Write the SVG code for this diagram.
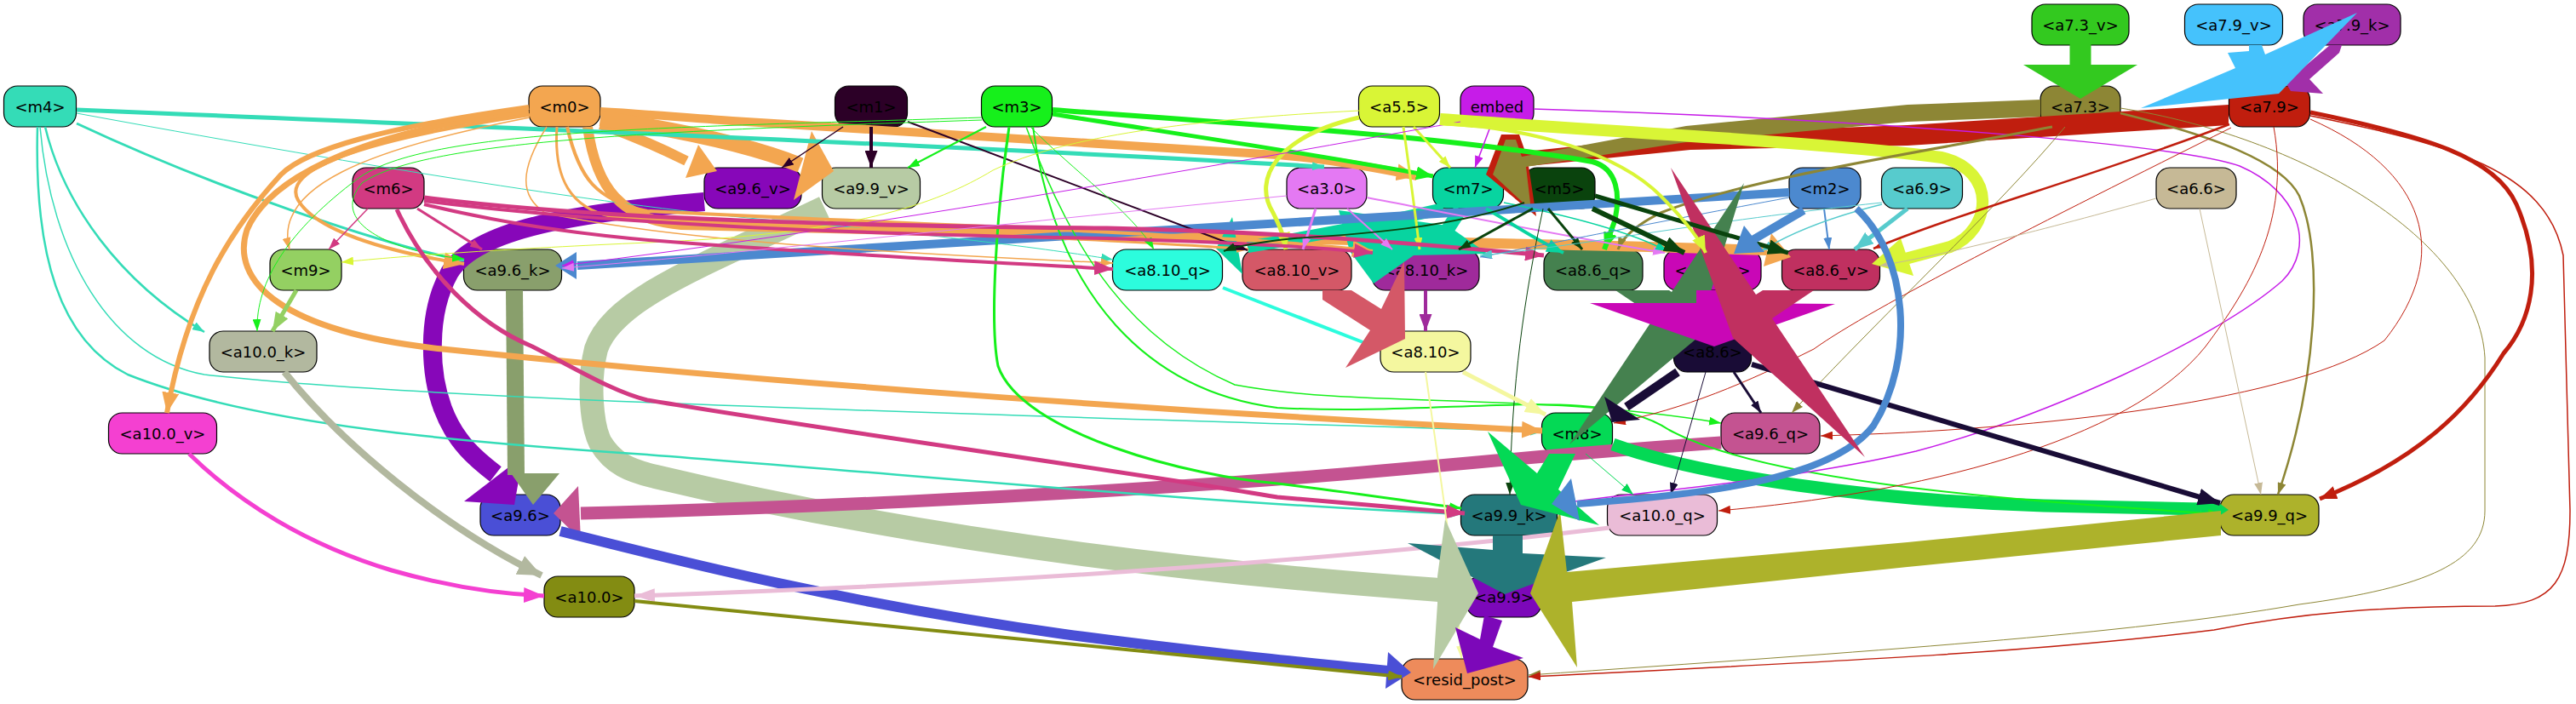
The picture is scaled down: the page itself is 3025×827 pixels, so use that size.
<svg xmlns="http://www.w3.org/2000/svg" width="3025" height="827" viewBox="0 0 3025 827">
<defs>
<style>
.n rect{stroke:#000;stroke-width:1.2}
.n text{font-family:"DejaVu Sans","Liberation Sans",sans-serif;font-size:18px;text-anchor:middle;dominant-baseline:central;fill:#000}
#connectors path{fill:none}
#connectors polygon{stroke:none}
.cm4 path{stroke:#34dcb7}.cm4 polygon{fill:#34dcb7}
.cm0 path{stroke:#f3a650}.cm0 polygon{fill:#f3a650}
.cm1 path{stroke:#2c0027}
.cm3 path{stroke:#16f01b}
.ca55 path{stroke:#d9f536}.ca55 polygon{fill:#d9f536}
.cemb path{stroke:#c61ce8}
.ca73v path{stroke:#33c91f}.ca73v polygon{fill:#33c91f}
.ca79v polygon{fill:#45c2fc}
.ca79k polygon{fill:#a12fa9}
.ca73 path{stroke:#8d8635}.ca73 polygon{fill:#8d8635}
.ca79 path{stroke:#c01e0e}.ca79 polygon{fill:#c01e0e}
.cm6 path{stroke:#d23a82}
.ca96v path{stroke:#8707b9}.ca96v polygon{fill:#8707b9}
.ca99v path{stroke:#b7cba4}.ca99v polygon{fill:#b7cba4}
.ca30 path{stroke:#e479f3}
.cm7 path{stroke:#08d4a0}.cm7 polygon{fill:#08d4a0}
.cm5 path{stroke:#0a430d}
.cm2 path{stroke:#4c89cf}.cm2 polygon{fill:#4c89cf}
.ca69 path{stroke:#57cbcd}
.ca66 path{stroke:#c6b996}
.cm9 path{stroke:#94d062}
.ca96k path{stroke:#899f6c}.ca96k polygon{fill:#899f6c}
.ca810q path{stroke:#2cfcdd}
.ca810v polygon{fill:#d45867}
.ca810k path{stroke:#9f2a9b}
.ca86q polygon{fill:#45814f}
.ca86k polygon{fill:#c907b6}
.ca86v polygon{fill:#c03060}
.ca100k path{stroke:#b2b89f}
.ca810 path{stroke:#f4f79f}
.ca86 path{stroke:#190c36}.ca86 polygon{fill:#190c36}
.ca100v path{stroke:#f440d1}
.cm8 path{stroke:#04d955}.cm8 polygon{fill:#04d955}
.ca96q path{stroke:#c45391}.ca96q polygon{fill:#c45391}
.ca96 path{stroke:#4a4fd6}.ca96 polygon{fill:#4a4fd6}
.ca99k polygon{fill:#24787b}
.ca100q path{stroke:#eabcd7}
.ca99q polygon{fill:#adb22b}
.ca100 path{stroke:#838c12}
.ca99 polygon{fill:#7c08b9}
</style>
<marker id="s_m4" viewBox="0 0 10 10" refX="10" refY="5" markerWidth="14" markerHeight="10" markerUnits="userSpaceOnUse" orient="auto" preserveAspectRatio="none"><path d="M0,0L10,5L0,10z" fill="#34dcb7"/></marker>
<marker id="s_m0" viewBox="0 0 10 10" refX="10" refY="5" markerWidth="14" markerHeight="10" markerUnits="userSpaceOnUse" orient="auto" preserveAspectRatio="none"><path d="M0,0L10,5L0,10z" fill="#f3a650"/></marker>
<marker id="L_m0" viewBox="0 0 10 10" refX="10" refY="5" markerWidth="24" markerHeight="20" markerUnits="userSpaceOnUse" orient="auto" preserveAspectRatio="none"><path d="M0,0L10,5L0,10z" fill="#f3a650"/></marker>
<marker id="s_m1" viewBox="0 0 10 10" refX="10" refY="5" markerWidth="14" markerHeight="10" markerUnits="userSpaceOnUse" orient="auto" preserveAspectRatio="none"><path d="M0,0L10,5L0,10z" fill="#2c0027"/></marker>
<marker id="L_m1" viewBox="0 0 10 10" refX="10" refY="5" markerWidth="20" markerHeight="15" markerUnits="userSpaceOnUse" orient="auto" preserveAspectRatio="none"><path d="M0,0L10,5L0,10z" fill="#2c0027"/></marker>
<marker id="s_m3" viewBox="0 0 10 10" refX="10" refY="5" markerWidth="14" markerHeight="10" markerUnits="userSpaceOnUse" orient="auto" preserveAspectRatio="none"><path d="M0,0L10,5L0,10z" fill="#16f01b"/></marker>
<marker id="L_m3" viewBox="0 0 10 10" refX="10" refY="5" markerWidth="20" markerHeight="16" markerUnits="userSpaceOnUse" orient="auto" preserveAspectRatio="none"><path d="M0,0L10,5L0,10z" fill="#16f01b"/></marker>
<marker id="s_a55" viewBox="0 0 10 10" refX="10" refY="5" markerWidth="14" markerHeight="10" markerUnits="userSpaceOnUse" orient="auto" preserveAspectRatio="none"><path d="M0,0L10,5L0,10z" fill="#d9f536"/></marker>
<marker id="L_a55" viewBox="0 0 10 10" refX="10" refY="5" markerWidth="20" markerHeight="16" markerUnits="userSpaceOnUse" orient="auto" preserveAspectRatio="none"><path d="M0,0L10,5L0,10z" fill="#d9f536"/></marker>
<marker id="s_emb" viewBox="0 0 10 10" refX="10" refY="5" markerWidth="14" markerHeight="10" markerUnits="userSpaceOnUse" orient="auto" preserveAspectRatio="none"><path d="M0,0L10,5L0,10z" fill="#c61ce8"/></marker>
<marker id="s_a73" viewBox="0 0 10 10" refX="10" refY="5" markerWidth="14" markerHeight="10" markerUnits="userSpaceOnUse" orient="auto" preserveAspectRatio="none"><path d="M0,0L10,5L0,10z" fill="#8d8635"/></marker>
<marker id="s_a79" viewBox="0 0 10 10" refX="10" refY="5" markerWidth="14" markerHeight="10" markerUnits="userSpaceOnUse" orient="auto" preserveAspectRatio="none"><path d="M0,0L10,5L0,10z" fill="#c01e0e"/></marker>
<marker id="L_a79" viewBox="0 0 10 10" refX="10" refY="5" markerWidth="20" markerHeight="16" markerUnits="userSpaceOnUse" orient="auto" preserveAspectRatio="none"><path d="M0,0L10,5L0,10z" fill="#c01e0e"/></marker>
<marker id="s_m6" viewBox="0 0 10 10" refX="10" refY="5" markerWidth="14" markerHeight="10" markerUnits="userSpaceOnUse" orient="auto" preserveAspectRatio="none"><path d="M0,0L10,5L0,10z" fill="#d23a82"/></marker>
<marker id="L_m6" viewBox="0 0 10 10" refX="10" refY="5" markerWidth="22" markerHeight="17" markerUnits="userSpaceOnUse" orient="auto" preserveAspectRatio="none"><path d="M0,0L10,5L0,10z" fill="#d23a82"/></marker>
<marker id="s_a30" viewBox="0 0 10 10" refX="10" refY="5" markerWidth="14" markerHeight="10" markerUnits="userSpaceOnUse" orient="auto" preserveAspectRatio="none"><path d="M0,0L10,5L0,10z" fill="#e479f3"/></marker>
<marker id="s_m7" viewBox="0 0 10 10" refX="10" refY="5" markerWidth="14" markerHeight="10" markerUnits="userSpaceOnUse" orient="auto" preserveAspectRatio="none"><path d="M0,0L10,5L0,10z" fill="#08d4a0"/></marker>
<marker id="L_m7" viewBox="0 0 10 10" refX="10" refY="5" markerWidth="20" markerHeight="16" markerUnits="userSpaceOnUse" orient="auto" preserveAspectRatio="none"><path d="M0,0L10,5L0,10z" fill="#08d4a0"/></marker>
<marker id="s_m5" viewBox="0 0 10 10" refX="10" refY="5" markerWidth="14" markerHeight="10" markerUnits="userSpaceOnUse" orient="auto" preserveAspectRatio="none"><path d="M0,0L10,5L0,10z" fill="#0a430d"/></marker>
<marker id="L_m5" viewBox="0 0 10 10" refX="10" refY="5" markerWidth="24" markerHeight="18" markerUnits="userSpaceOnUse" orient="auto" preserveAspectRatio="none"><path d="M0,0L10,5L0,10z" fill="#0a430d"/></marker>
<marker id="s_m2" viewBox="0 0 10 10" refX="10" refY="5" markerWidth="14" markerHeight="10" markerUnits="userSpaceOnUse" orient="auto" preserveAspectRatio="none"><path d="M0,0L10,5L0,10z" fill="#4c89cf"/></marker>
<marker id="s_a69" viewBox="0 0 10 10" refX="10" refY="5" markerWidth="14" markerHeight="10" markerUnits="userSpaceOnUse" orient="auto" preserveAspectRatio="none"><path d="M0,0L10,5L0,10z" fill="#57cbcd"/></marker>
<marker id="L_a69" viewBox="0 0 10 10" refX="10" refY="5" markerWidth="22" markerHeight="17" markerUnits="userSpaceOnUse" orient="auto" preserveAspectRatio="none"><path d="M0,0L10,5L0,10z" fill="#57cbcd"/></marker>
<marker id="s_a66" viewBox="0 0 10 10" refX="10" refY="5" markerWidth="14" markerHeight="10" markerUnits="userSpaceOnUse" orient="auto" preserveAspectRatio="none"><path d="M0,0L10,5L0,10z" fill="#c6b996"/></marker>
<marker id="L_m9" viewBox="0 0 10 10" refX="10" refY="5" markerWidth="22" markerHeight="17" markerUnits="userSpaceOnUse" orient="auto" preserveAspectRatio="none"><path d="M0,0L10,5L0,10z" fill="#94d062"/></marker>
<marker id="s_a810q" viewBox="0 0 10 10" refX="10" refY="5" markerWidth="14" markerHeight="10" markerUnits="userSpaceOnUse" orient="auto" preserveAspectRatio="none"><path d="M0,0L10,5L0,10z" fill="#2cfcdd"/></marker>
<marker id="L_a810k" viewBox="0 0 10 10" refX="10" refY="5" markerWidth="20" markerHeight="15" markerUnits="userSpaceOnUse" orient="auto" preserveAspectRatio="none"><path d="M0,0L10,5L0,10z" fill="#9f2a9b"/></marker>
<marker id="L_a100k" viewBox="0 0 10 10" refX="10" refY="5" markerWidth="28" markerHeight="24" markerUnits="userSpaceOnUse" orient="auto" preserveAspectRatio="none"><path d="M0,0L10,5L0,10z" fill="#b2b89f"/></marker>
<marker id="s_a810" viewBox="0 0 10 10" refX="10" refY="5" markerWidth="14" markerHeight="10" markerUnits="userSpaceOnUse" orient="auto" preserveAspectRatio="none"><path d="M0,0L10,5L0,10z" fill="#f4f79f"/></marker>
<marker id="L_a810" viewBox="0 0 10 10" refX="10" refY="5" markerWidth="24" markerHeight="18" markerUnits="userSpaceOnUse" orient="auto" preserveAspectRatio="none"><path d="M0,0L10,5L0,10z" fill="#f4f79f"/></marker>
<marker id="s_a86" viewBox="0 0 10 10" refX="10" refY="5" markerWidth="14" markerHeight="10" markerUnits="userSpaceOnUse" orient="auto" preserveAspectRatio="none"><path d="M0,0L10,5L0,10z" fill="#190c36"/></marker>
<marker id="L_a86" viewBox="0 0 10 10" refX="10" refY="5" markerWidth="26" markerHeight="20" markerUnits="userSpaceOnUse" orient="auto" preserveAspectRatio="none"><path d="M0,0L10,5L0,10z" fill="#190c36"/></marker>
<marker id="L_a100v" viewBox="0 0 10 10" refX="10" refY="5" markerWidth="24" markerHeight="18" markerUnits="userSpaceOnUse" orient="auto" preserveAspectRatio="none"><path d="M0,0L10,5L0,10z" fill="#f440d1"/></marker>
<marker id="s_m8" viewBox="0 0 10 10" refX="10" refY="5" markerWidth="14" markerHeight="10" markerUnits="userSpaceOnUse" orient="auto" preserveAspectRatio="none"><path d="M0,0L10,5L0,10z" fill="#04d955"/></marker>
<marker id="L_a100q" viewBox="0 0 10 10" refX="10" refY="5" markerWidth="24" markerHeight="16" markerUnits="userSpaceOnUse" orient="auto" preserveAspectRatio="none"><path d="M0,0L10,5L0,10z" fill="#eabcd7"/></marker>
<marker id="s_a100" viewBox="0 0 10 10" refX="10" refY="5" markerWidth="16" markerHeight="12" markerUnits="userSpaceOnUse" orient="auto" preserveAspectRatio="none"><path d="M0,0L10,5L0,10z" fill="#838c12"/></marker>
</defs>
<rect width="3025" height="827" fill="#ffffff"/>
<g id="nodes">
<g id="node-a7.3_v" class="n"><rect x="2386" y="5" width="114" height="48" rx="16" fill="#33c91f"/><text x="2443" y="29">&lt;a7.3_v&gt;</text></g>
<g id="node-a7.9_v" class="n"><rect x="2565.5" y="5" width="115" height="48" rx="16" fill="#45c2fc"/><text x="2623" y="29">&lt;a7.9_v&gt;</text></g>
<g id="node-a7.9_k" class="n"><rect x="2705" y="5" width="114" height="48" rx="16" fill="#a12fa9"/><text x="2762" y="29">&lt;a7.9_k&gt;</text></g>
<g id="node-m4" class="n"><rect x="4.5" y="101" width="85" height="48" rx="16" fill="#34dcb7"/><text x="47" y="125">&lt;m4&gt;</text></g>
<g id="node-m0" class="n"><rect x="621" y="101" width="84" height="48" rx="16" fill="#f3a650"/><text x="663" y="125">&lt;m0&gt;</text></g>
<g id="node-m1" class="n"><rect x="980.5" y="101" width="85" height="48" rx="16" fill="#2c0027"/><text x="1023" y="125">&lt;m1&gt;</text></g>
<g id="node-m3" class="n"><rect x="1152.5" y="101" width="83" height="48" rx="16" fill="#16f01b"/><text x="1194" y="125">&lt;m3&gt;</text></g>
<g id="node-a5.5" class="n"><rect x="1595.5" y="101" width="95" height="48" rx="16" fill="#d9f536"/><text x="1643" y="125">&lt;a5.5&gt;</text></g>
<g id="node-embed" class="n"><rect x="1715" y="101" width="86" height="48" rx="16" fill="#c61ce8"/><text x="1758" y="125">embed</text></g>
<g id="node-a7.3" class="n"><rect x="2396" y="101" width="94" height="48" rx="16" fill="#8d8635"/><text x="2443" y="125">&lt;a7.3&gt;</text></g>
<g id="node-a7.9" class="n"><rect x="2617.5" y="101" width="95" height="48" rx="16" fill="#c01e0e"/><text x="2665" y="125">&lt;a7.9&gt;</text></g>
<g id="node-m6" class="n"><rect x="414" y="197" width="84" height="48" rx="16" fill="#d23a82"/><text x="456" y="221">&lt;m6&gt;</text></g>
<g id="node-a9.6_v" class="n"><rect x="827" y="197" width="114" height="48" rx="16" fill="#8707b9"/><text x="884" y="221">&lt;a9.6_v&gt;</text></g>
<g id="node-a9.9_v" class="n"><rect x="965.5" y="197" width="115" height="48" rx="16" fill="#b7cba4"/><text x="1023" y="221">&lt;a9.9_v&gt;</text></g>
<g id="node-a3.0" class="n"><rect x="1511" y="197" width="94" height="48" rx="16" fill="#e479f3"/><text x="1558" y="221">&lt;a3.0&gt;</text></g>
<g id="node-m7" class="n"><rect x="1682.5" y="197" width="83" height="48" rx="16" fill="#08d4a0"/><text x="1724" y="221">&lt;m7&gt;</text></g>
<g id="node-m5" class="n"><rect x="1789" y="197" width="84" height="48" rx="16" fill="#0a430d"/><text x="1831" y="221">&lt;m5&gt;</text></g>
<g id="node-m2" class="n"><rect x="2101" y="197" width="84" height="48" rx="16" fill="#4c89cf"/><text x="2143" y="221">&lt;m2&gt;</text></g>
<g id="node-a6.9" class="n"><rect x="2209.5" y="197" width="95" height="48" rx="16" fill="#57cbcd"/><text x="2257" y="221">&lt;a6.9&gt;</text></g>
<g id="node-a6.6" class="n"><rect x="2532" y="197" width="94" height="48" rx="16" fill="#c6b996"/><text x="2579" y="221">&lt;a6.6&gt;</text></g>
<g id="node-m9" class="n"><rect x="317" y="293" width="84" height="48" rx="16" fill="#94d062"/><text x="359" y="317">&lt;m9&gt;</text></g>
<g id="node-a9.6_k" class="n"><rect x="544.5" y="293" width="115" height="48" rx="16" fill="#899f6c"/><text x="602" y="317">&lt;a9.6_k&gt;</text></g>
<g id="node-a8.10_q" class="n"><rect x="1306.5" y="293" width="129" height="48" rx="16" fill="#2cfcdd"/><text x="1371" y="317">&lt;a8.10_q&gt;</text></g>
<g id="node-a8.10_v" class="n"><rect x="1459" y="293" width="128" height="48" rx="16" fill="#d45867"/><text x="1523" y="317">&lt;a8.10_v&gt;</text></g>
<g id="node-a8.10_k" class="n"><rect x="1611" y="293" width="126" height="48" rx="16" fill="#9f2a9b"/><text x="1674" y="317">&lt;a8.10_k&gt;</text></g>
<g id="node-a8.6_q" class="n"><rect x="1813" y="293" width="116" height="48" rx="16" fill="#45814f"/><text x="1871" y="317">&lt;a8.6_q&gt;</text></g>
<g id="node-a8.6_k" class="n"><rect x="1954" y="293" width="114" height="48" rx="16" fill="#c907b6"/><text x="2011" y="317">&lt;a8.6_k&gt;</text></g>
<g id="node-a8.6_v" class="n"><rect x="2092.5" y="293" width="115" height="48" rx="16" fill="#c03060"/><text x="2150" y="317">&lt;a8.6_v&gt;</text></g>
<g id="node-a10.0_k" class="n"><rect x="246" y="389" width="126" height="48" rx="16" fill="#b2b89f"/><text x="309" y="413">&lt;a10.0_k&gt;</text></g>
<g id="node-a8.10" class="n"><rect x="1621" y="389" width="106" height="48" rx="16" fill="#f4f79f"/><text x="1674" y="413">&lt;a8.10&gt;</text></g>
<g id="node-a8.6" class="n"><rect x="1965.5" y="389" width="91" height="48" rx="16" fill="#190c36"/><text x="2011" y="413">&lt;a8.6&gt;</text></g>
<g id="node-a10.0_v" class="n"><rect x="127.5" y="485" width="127" height="48" rx="16" fill="#f440d1"/><text x="191" y="509">&lt;a10.0_v&gt;</text></g>
<g id="node-m8" class="n"><rect x="1810.5" y="485" width="83" height="48" rx="16" fill="#04d955"/><text x="1852" y="509">&lt;m8&gt;</text></g>
<g id="node-a9.6_q" class="n"><rect x="2021" y="485" width="116" height="48" rx="16" fill="#c45391"/><text x="2079" y="509">&lt;a9.6_q&gt;</text></g>
<g id="node-a9.6" class="n"><rect x="564" y="581" width="94" height="48" rx="16" fill="#4a4fd6"/><text x="611" y="605">&lt;a9.6&gt;</text></g>
<g id="node-a9.9_k" class="n"><rect x="1715.5" y="581" width="113" height="48" rx="16" fill="#24787b"/><text x="1772" y="605">&lt;a9.9_k&gt;</text></g>
<g id="node-a10.0_q" class="n"><rect x="1887.5" y="581" width="129" height="48" rx="16" fill="#eabcd7"/><text x="1952" y="605">&lt;a10.0_q&gt;</text></g>
<g id="node-a9.9_q" class="n"><rect x="2607" y="581" width="116" height="48" rx="16" fill="#adb22b"/><text x="2665" y="605">&lt;a9.9_q&gt;</text></g>
<g id="node-a10.0" class="n"><rect x="639" y="677" width="106" height="48" rx="16" fill="#838c12"/><text x="692" y="701">&lt;a10.0&gt;</text></g>
<g id="node-a9.9" class="n"><rect x="1722" y="677" width="88" height="48" rx="16" fill="#7c08b9"/><text x="1766" y="701">&lt;a9.9&gt;</text></g>
<g id="node-resid_post" class="n"><rect x="1646" y="774" width="148" height="48" rx="16" fill="#ee8b5b"/><text x="1720" y="798">&lt;resid_post&gt;</text></g>
</g>
<g id="connectors">
<g id="e-a9.9_v-a9.9" class="ca99v"><path d="M968,244 C830,310 720,350 700,410 C690,450 695,500 705,520 C720,545 740,553 770,560 C1000,615 1300,665 1690,693" stroke-width="28"/></g>
<g id="e-a9.6_v-a9.6" class="ca96v"><path d="M827,237 C680,250 560,268 528,320 C500,370 505,440 520,480 C535,520 560,540 582,557" stroke-width="22"/><polygon points="614,536 604,593 545,589"/></g>
<g id="e-a9.6_k-a9.6" class="ca96k"><path d="M604,341 L606,558" stroke-width="20"/><polygon points="600,556 657,556 626,593"/></g>
<g id="e-a9.6_q-a9.6" class="ca96q"><path d="M2021,520 C1800,535 1650,552 1500,563 C1200,585 900,598 682,603" stroke-width="15"/><polygon points="679,571 682,634 650,603"/></g>
<g id="e-a9.6-resid_post" class="ca96"><path d="M658,624 C800,660 1000,710 1250,745 C1400,765 1500,775 1630,788" stroke-width="12"/><polygon points="1630,766 1657,790 1627,809"/></g>
<g id="e-m8-a9.9_q" class="cm8"><path d="M1894,522 C2000,560 2200,588 2400,594 L2585,598" stroke-width="15"/><polygon points="2585,576 2617,599 2585,619"/></g>
<g id="e-m0-a8.6_v" class="cm0"><path d="M690,149 C700,222 730,258 800,264 C1100,272 1600,280 2075,294" stroke-width="12"/><polygon points="2080,274 2103,302 2071,313"/></g>
<g id="e-m0-m7" class="cm0"><path d="M705,131 C760,134 800,138 860,142 L1500,182 C1560,187 1620,198 1664,207" stroke-width="10" marker-end="url(#L_m0)"/></g>
<g id="e-m0-a9.6_v" class="cm0"><path d="M705,146 C745,160 780,176 806,189" stroke-width="12"/><polygon points="820,170 842,201 805,209"/></g>
<g id="e-m0-a9.9_v" class="cm0"><path d="M705,139 C800,153 880,170 940,194" stroke-width="18"/><polygon points="953,154 979,201 932,235"/></g>
<g id="e-a7.9-m7" class="ca79"><polygon points="1745,205 1763,158 1784,158 1791,178 2000,156 2240,147 2617,123 2617,147 2240,171 1985,176 1795,195 1804,254"/></g>
<g id="e-a7.3-m7" class="ca73"><polygon points="1753,205 1768,164 1780,164 1787,184 1980,148 2240,123 2396,117 2396,137 2240,143 1980,167 1792,196 1798,247"/></g>
<g id="e-a5.5-a8.6_v" class="ca55"><path d="M1691,140 C1900,155 2150,168 2280,185 C2345,200 2340,270 2290,290 L2230,306" stroke-width="14"/><polygon points="2232,280 2198,310 2247,324"/></g>
<g id="e-m7-a8.10_q" class="cm7"><path d="M1695,245 C1620,262 1540,278 1465,290" stroke-width="14"/><polygon points="1447,255 1459,322 1428,292"/></g>
<g id="e-m7-a8.10_k" class="cm7"><path d="M1715,246 L1690,285" stroke-width="16"/><polygon points="1572,247 1700,265 1747,298 1660,300 1613,333 1585,295"/></g>
<g id="e-m2-a9.6_k" class="cm2"><path d="M2101,226 L678,312" stroke-width="10"/><polygon points="677,296 652,312 677,328"/></g>
<g id="e-m4-a3.0" class="cm4"><path d="M90,129 C600,150 1200,175 1555,196" stroke-width="5" marker-end="url(#s_m4)"/></g>
<g id="e-m4-a9.6_k" class="cm4"><path d="M90,145 C250,220 450,288 545,306" stroke-width="3" marker-end="url(#s_m4)"/></g>
<g id="e-m4-a10.0_k" class="cm4"><path d="M53,149 C75,240 140,330 240,390" stroke-width="2.5" marker-end="url(#s_m4)"/></g>
<g id="e-m4-m8" class="cm4"><path d="M47,149 C60,300 130,420 240,440 C500,470 1100,485 1811,507" stroke-width="1.5" marker-end="url(#s_m4)"/></g>
<g id="e-m4-a9.9_k" class="cm4"><path d="M44,149 C40,300 70,400 150,440 C300,500 550,520 760,534 C1100,560 1400,590 1716,604" stroke-width="2.5" marker-end="url(#s_m4)"/></g>
<g id="e-m4-a8.10_q" class="cm4"><path d="M90,133 C400,190 700,240 900,258 C1100,275 1250,295 1307,305" stroke-width="1" marker-end="url(#s_m4)"/></g>
<g id="e-m0-m8" class="cm0"><path d="M621,132 C450,150 320,200 290,270 C270,330 330,390 520,410 C900,450 1400,485 1811,506" stroke-width="7" marker-end="url(#L_m0)"/></g>
<g id="e-m0-a10.0_v" class="cm0"><path d="M621,126 C450,150 360,175 330,205 C270,270 220,350 196,485" stroke-width="6" marker-end="url(#L_m0)"/></g>
<g id="e-m0-a9.6_k" class="cm0"><path d="M622,135 C420,165 330,200 350,235 C370,270 450,295 545,310" stroke-width="4" marker-end="url(#L_m0)"/></g>
<g id="e-m0-m9" class="cm0"><path d="M622,138 C430,175 320,220 340,293" stroke-width="1.5" marker-end="url(#s_m0)"/></g>
<g id="e-m0-a8.10_q" class="cm0"><path d="M642,149 C610,200 610,230 640,250 C800,285 1100,300 1307,309" stroke-width="1.5" marker-end="url(#s_m0)"/></g>
<g id="e-m0-a8.10_v" class="cm0"><path d="M654,149 C650,210 670,245 720,255 C1000,270 1300,280 1466,293" stroke-width="3" marker-end="url(#s_m0)"/></g>
<g id="e-m0-a8.10_k" class="cm0"><path d="M666,149 C680,210 700,235 760,248 C1100,265 1450,275 1612,295" stroke-width="4" marker-end="url(#L_m0)"/></g>
<g id="e-m1-a9.9_v" class="cm1"><path d="M1023,149 L1023,197" stroke-width="4" marker-end="url(#L_m1)"/></g>
<g id="e-m1-a9.6_v" class="cm1"><path d="M990,149 L918,197" stroke-width="1.5" marker-end="url(#s_m1)"/></g>
<g id="e-m1-a8.10_v" class="cm1"><path d="M1066,143 L1465,294" stroke-width="2" marker-end="url(#s_m1)"/></g>
<g id="e-m3-a9.9_v" class="cm3"><path d="M1158,149 L1066,197" stroke-width="2" marker-end="url(#s_m3)"/></g>
<g id="e-m3-a8.6_q" class="cm3"><path d="M1236,129 C1450,145 1700,160 1870,190 C1900,198 1903,230 1896,260 L1884,293" stroke-width="6" marker-end="url(#L_m3)"/></g>
<g id="e-m3-m7" class="cm3"><path d="M1236,134 C1400,160 1550,182 1683,207" stroke-width="5" marker-end="url(#L_m3)"/></g>
<g id="e-m3-a9.9_k" class="cm3"><path d="M1185,149 C1170,250 1162,380 1172,430 C1200,510 1400,560 1500,568 C1600,580 1660,590 1716,597" stroke-width="3" marker-end="url(#s_m3)"/></g>
<g id="e-m3-a9.6_q" class="cm3"><path d="M1205,149 C1260,300 1330,400 1450,452 C1600,480 1800,460 2021,497" stroke-width="1.5" marker-end="url(#s_m3)"/></g>
<g id="e-m3-a9.9_q" class="cm3"><path d="M1213,149 C1240,350 1350,460 1500,479 C1700,490 1880,450 1960,505 C2080,570 2400,590 2607,604" stroke-width="2" marker-end="url(#s_m3)"/></g>
<g id="e-m3-a10.0_k" class="cm3"><path d="M1153,138 C800,150 500,150 420,210 C340,270 300,330 302,389" stroke-width="1" marker-end="url(#s_m3)"/></g>
<g id="e-m3-a9.6_k" class="cm3"><path d="M1153,141 C800,153 500,163 425,215 C385,262 460,296 545,304" stroke-width="1" marker-end="url(#s_m3)"/></g>
<g id="e-m3-a8.10_q" class="cm3"><path d="M1210,149 C1260,200 1330,250 1355,293" stroke-width="1" marker-end="url(#s_m3)"/></g>
<g id="e-a5.5-m7" class="ca55"><path d="M1660,149 L1703,197" stroke-width="3" marker-end="url(#s_a55)"/></g>
<g id="e-a5.5-a8.10_k" class="ca55"><path d="M1648,149 C1655,200 1662,250 1667,293" stroke-width="3" marker-end="url(#s_a55)"/></g>
<g id="e-a5.5-a8.10_v" class="ca55"><path d="M1596,138 C1500,160 1470,210 1495,250 C1505,270 1508,280 1510,293" stroke-width="5" marker-end="url(#L_a55)"/></g>
<g id="e-a5.5-m9" class="ca55"><path d="M1596,130 C1400,140 1250,160 1166,200 C1100,240 1000,275 760,285 C600,292 480,300 401,308" stroke-width="1" marker-end="url(#s_a55)"/></g>
<g id="e-embed-m7" class="cemb"><path d="M1750,149 L1732,197" stroke-width="1.5" marker-end="url(#s_emb)"/></g>
<g id="e-embed-a9.6_k" class="cemb"><path d="M1715,143 C1400,200 1000,270 660,312" stroke-width="1" marker-end="url(#s_emb)"/></g>
<g id="e-embed-a9.9_k" class="cemb"><path d="M1801,128 C2200,140 2560,170 2630,195 C2700,225 2720,290 2680,330 C2600,400 2400,490 2250,530 C2100,565 1950,575 1832,591" stroke-width="1.5" marker-end="url(#s_emb)"/></g>
<g id="e-a7.3-a9.9_q" class="ca73"><path d="M2490,133 C2600,160 2680,190 2700,230 C2730,300 2720,450 2675,581" stroke-width="2.5" marker-end="url(#s_a73)"/></g>
<g id="e-a7.3-resid_post" class="ca73"><path d="M2490,127 C2700,160 2910,280 2918,420 L2918,600 C2918,660 2850,690 2700,710 C2500,745 2200,765 1795,793" stroke-width="1" marker-end="url(#s_a73)"/></g>
<g id="e-a7.3-a8.6_q" class="ca73"><path d="M2410,149 C2250,180 2050,210 1950,250 C1920,265 1905,280 1900,293" stroke-width="3" marker-end="url(#s_a73)"/></g>
<g id="e-a7.3-a9.6_q" class="ca73"><path d="M2425,149 C2350,240 2200,380 2104,485" stroke-width="1" marker-end="url(#s_a73)"/></g>
<g id="e-a7.9-a9.9_q" class="ca79"><path d="M2713,132 C2850,160 2930,185 2955,240 C2990,320 2970,380 2940,415 C2900,480 2840,540 2724,586" stroke-width="5" marker-end="url(#L_a79)"/></g>
<g id="e-a7.9-resid_post" class="ca79"><path d="M2713,136 C2880,170 2990,200 3010,300 L3018,600 C3018,680 3000,710 2930,712 C2800,712 2700,720 2600,740 C2400,765 2200,775 1795,795" stroke-width="1.5" marker-end="url(#s_a79)"/></g>
<g id="e-a7.9-a8.6_v" class="ca79"><path d="M2618,146 C2450,210 2300,250 2200,292" stroke-width="2.5" marker-end="url(#s_a79)"/></g>
<g id="e-a7.9-m8" class="ca79"><path d="M2620,150 C2400,260 2200,360 2130,410 C2050,450 1980,480 1895,497" stroke-width="1" marker-end="url(#s_a79)"/></g>
<g id="e-a7.9-a10.0_q" class="ca79"><path d="M2670,149 C2690,260 2640,340 2590,407 C2500,520 2250,580 2018,600" stroke-width="1" marker-end="url(#s_a79)"/></g>
<g id="e-a7.9-a9.6_q" class="ca79"><path d="M2713,140 C2850,200 2880,300 2800,400 C2700,470 2400,505 2138,512" stroke-width="1" marker-end="url(#s_a79)"/></g>
<g id="e-m6-m9" class="cm6"><path d="M432,245 L386,293" stroke-width="1.5" marker-end="url(#s_m6)"/></g>
<g id="e-m6-a9.6_k" class="cm6"><path d="M490,245 L566,293" stroke-width="3" marker-end="url(#s_m6)"/></g>
<g id="e-m6-a9.9_k" class="cm6"><path d="M466,246 C500,320 560,380 625,407 C680,435 720,460 760,470 C1000,510 1300,550 1500,584 L1720,603" stroke-width="5" marker-end="url(#L_m6)"/></g>
<g id="e-m6-a8.10_q" class="cm6"><path d="M498,240 C600,265 700,278 800,285 C1000,300 1200,310 1307,316" stroke-width="4" marker-end="url(#L_m6)"/></g>
<g id="e-m6-a8.6_q" class="cm6"><path d="M498,232 C700,258 1000,265 1300,268 C1500,272 1650,285 1813,300" stroke-width="5" marker-end="url(#L_m6)"/></g>
<g id="e-m6-a8.10_k" class="cm6"><path d="M498,236 C700,262 1000,275 1300,280 C1450,285 1550,290 1612,297" stroke-width="4" marker-end="url(#L_m6)"/></g>
<g id="e-a3.0-a8.10_v" class="ca30"><path d="M1545,245 L1530,293" stroke-width="3" marker-end="url(#s_a30)"/></g>
<g id="e-a3.0-a8.10_k" class="ca30"><path d="M1582,245 L1635,293" stroke-width="2" marker-end="url(#s_a30)"/></g>
<g id="e-a3.0-a8.6_k" class="ca30"><path d="M1605,232 C1750,260 1850,280 1955,297" stroke-width="2" marker-end="url(#s_a30)"/></g>
<g id="e-a3.0-a9.6_k" class="ca30"><path d="M1511,230 C1200,260 900,295 660,315" stroke-width="1" marker-end="url(#s_a30)"/></g>
<g id="e-m7-a8.6_q" class="cm7"><path d="M1745,245 C1780,265 1800,280 1836,297" stroke-width="4" marker-end="url(#L_m7)"/></g>
<g id="e-m7-a8.6_k" class="cm7"><path d="M1766,238 C1850,255 1920,275 1958,295" stroke-width="1.5" marker-end="url(#s_m7)"/></g>
<g id="e-m5-a8.10_k" class="cm5"><path d="M1800,245 L1713,293" stroke-width="3" marker-end="url(#s_m5)"/></g>
<g id="e-m5-a8.10_q" class="cm5"><path d="M1790,238 C1700,268 1600,275 1520,280 C1480,284 1455,288 1437,295" stroke-width="2" marker-end="url(#s_m5)"/></g>
<g id="e-m5-a8.6_q" class="cm5"><path d="M1818,245 L1858,293" stroke-width="3" marker-end="url(#s_m5)"/></g>
<g id="e-m5-a9.9_k" class="cm5"><path d="M1812,245 C1790,350 1775,450 1773,581" stroke-width="1" marker-end="url(#s_m5)"/></g>
<g id="e-m2-a8.6_v" class="cm2"><path d="M2142,245 L2148,293" stroke-width="2" marker-end="url(#s_m2)"/></g>
<g id="e-m2-a8.10_k" class="cm2"><path d="M2101,232 C1950,260 1800,290 1738,302" stroke-width="1" marker-end="url(#s_m2)"/></g>
<g id="e-a6.9-a8.6_v" class="ca69"><path d="M2240,245 L2178,293" stroke-width="5" marker-end="url(#L_a69)"/></g>
<g id="e-a6.9-a8.6_k" class="ca69"><path d="M2210,240 C2150,255 2100,275 2068,295" stroke-width="1.5" marker-end="url(#s_a69)"/></g>
<g id="e-a6.9-a8.10_k" class="ca69"><path d="M2210,238 C2000,260 1850,290 1738,300" stroke-width="1" marker-end="url(#s_a69)"/></g>
<g id="e-a6.6-a9.9_q" class="ca66"><path d="M2583,245 L2655,581" stroke-width="1" marker-end="url(#s_a66)"/></g>
<g id="e-a6.6-a8.6_v" class="ca66"><path d="M2532,233 C2400,270 2280,300 2208,312" stroke-width="1" marker-end="url(#s_a66)"/></g>
<g id="e-m9-a10.0_k" class="cm9"><path d="M348,341 L320,389" stroke-width="5" marker-end="url(#L_m9)"/></g>
<g id="e-a8.10_q-a8.10" class="ca810q"><path d="M1436,338 L1621,410" stroke-width="4" marker-end="url(#s_a810q)"/></g>
<g id="e-a8.10_k-a8.10" class="ca810k"><path d="M1674,341 L1674,389" stroke-width="4" marker-end="url(#L_a810k)"/></g>
<g id="e-a10.0_k-a10.0" class="ca100k"><path d="M334,437 C400,520 520,620 636,676" stroke-width="8" marker-end="url(#L_a100k)"/></g>
<g id="e-a8.10-m8" class="ca810"><path d="M1718,437 L1815,487" stroke-width="5" marker-end="url(#L_a810)"/></g>
<g id="e-a8.10-resid_post" class="ca810"><path d="M1674,437 C1690,550 1710,680 1716,773" stroke-width="2" marker-end="url(#s_a810)"/></g>
<g id="e-a8.6-a9.6_q" class="ca86"><path d="M2036,437 L2068,485" stroke-width="3" marker-end="url(#s_a86)"/></g>
<g id="e-a8.6-a9.9_q" class="ca86"><path d="M2057,428 L2607,591" stroke-width="6" marker-end="url(#L_a86)"/></g>
<g id="e-a8.6-a10.0_q" class="ca86"><path d="M2003,437 L1962,581" stroke-width="1" marker-end="url(#s_a86)"/></g>
<g id="e-a10.0_v-a10.0" class="ca100v"><path d="M222,533 C280,590 360,640 460,670 C530,690 590,698 639,700" stroke-width="5" marker-end="url(#L_a100v)"/></g>
<g id="e-m8-a10.0_q" class="cm8"><path d="M1862,533 L1918,581" stroke-width="1" marker-end="url(#s_m8)"/></g>
<g id="e-a10.0_q-a10.0" class="ca100q"><path d="M1890,620 C1600,655 1200,685 745,700" stroke-width="5" marker-end="url(#L_a100q)"/></g>
<g id="e-a10.0-resid_post" class="ca100"><path d="M745,706 C1100,740 1400,770 1646,795" stroke-width="4" marker-end="url(#s_a100)"/></g>
<g id="e-a9.9_k-a9.9" class="ca99k"><polygon points="1753,629 1788,629 1788,650 1886,655 1767,698 1653,638 1753,646"/></g>
<g id="e-a9.9_v-a9.9-head" class="ca99v"><polygon points="1688,677 1697,610 1736,697 1683,786 1688,709"/></g>
<g id="e-a9.9_q-a9.9" class="ca99q"><polygon points="2608,600 2608,629 2240,666 1846,707 1852,784 1797,697 1832,600 1840,672 2240,637"/></g>
<g id="e-a9.9-resid_post" class="ca99"><polygon points="1743,723 1764,729 1753,760 1789,773 1723,791 1709,737 1738,751"/></g>
<g id="e-m8-a9.9_k" class="cm8"><polygon points="1747,507 1805,556 1819,533 1850,533 1830,575 1878,617 1786,593"/></g>
<g id="e-m2-a9.9_k" class="cm2"><path d="M2180,245 C2240,300 2250,420 2200,500 C2150,565 2000,580 1852,592" stroke-width="8"/><polygon points="1845,562 1822,592 1855,612"/></g>
<g id="e-a8.6_q-a8.6" class="ca86q"><polygon points="1897,341 1960,341 1963,343 2048,215 1992,398 1843,522 1943,372"/></g>
<g id="e-a8.6_k-a8.6" class="ca86k"><polygon points="1992,341 2033,341 2033,356 2155,357 2013,407 1867,356 1992,356"/></g>
<g id="e-a8.6_v-a8.6" class="ca86v"><polygon points="1962,197 2062,346 2070,341 2130,341 2081,374 2190,537 2035,397"/></g>
<g id="e-a8.10_v-a8.10" class="ca810v"><polygon points="1553,341 1587,341 1622,363 1649,307 1650,398 1580,432 1609,388 1553,352"/></g>
<g id="e-a7.3_v-a7.3" class="ca73v"><path d="M2443,52 L2443,77" stroke-width="25"/><polygon points="2376,76 2510,76 2443,116"/></g>
<g id="e-a7.9_k-a7.9" class="ca79k"><polygon points="2736,53 2750,53 2747,62 2712,93 2728,110 2690,107 2684,97"/></g>
<g id="e-a7.9_v-a7.9" class="ca79v"><polygon points="2641,53 2656,53 2660,64 2768,15 2676,110 2514,127 2625,80 2616,62 2641,60"/></g>
<g id="e-a8.6-m8" class="ca86"><path d="M1970,437 L1910,478" stroke-width="10"/><polygon points="1884,466 1926,493 1893,496"/></g>
<g id="e-m5-a8.6_k" class="cm5"><path d="M1870,245 L1978,297" stroke-width="6" marker-end="url(#L_m5)"/></g>
<g id="e-m5-a8.6_v" class="cm5"><path d="M1873,230 L2100,297" stroke-width="5" marker-end="url(#L_m5)"/></g>
<g id="e-m2-a8.6_k" class="cm2"><path d="M2118,247 L2058,282" stroke-width="10"/><polygon points="2048,265 2072,296 2036,298"/></g>
<g id="e-a5.5-a8.6_k" class="ca55"><path d="M1691,145 C1800,150 1900,180 1950,230 C1980,260 1995,280 2003,297" stroke-width="4" marker-end="url(#L_a55)"/></g>
</g>
</svg>
